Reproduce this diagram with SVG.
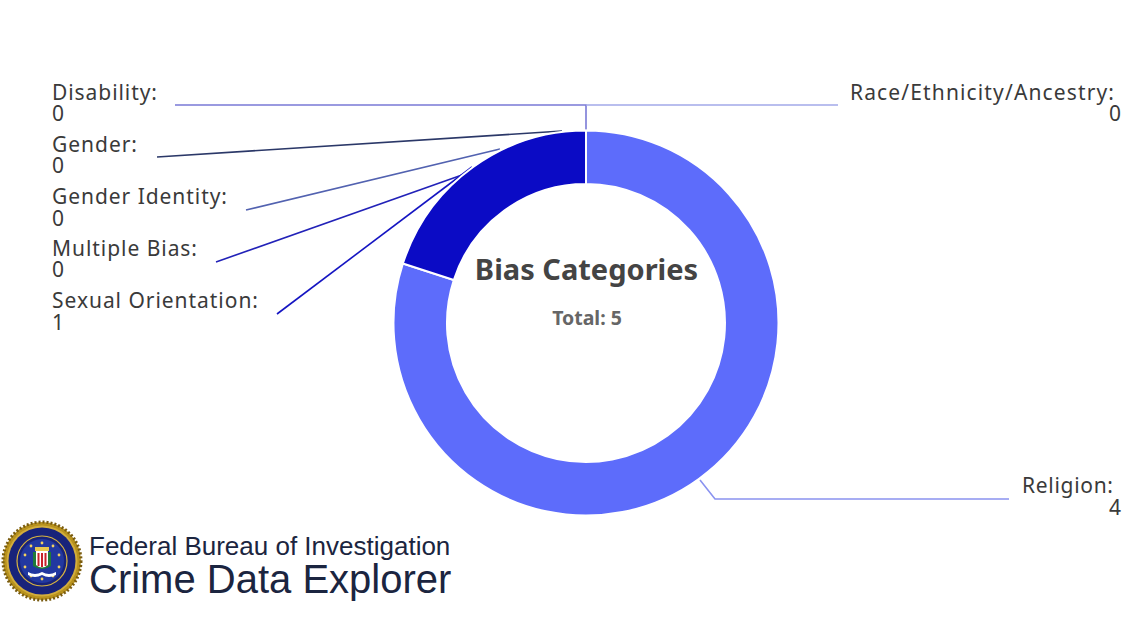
<svg xmlns="http://www.w3.org/2000/svg" width="1148" height="620" viewBox="0 0 1148 620">
<style>
.lbl{font-family:"Noto Sans","Open Sans",sans-serif;font-size:21px;fill:#3a3a3a}
.ttl{font-family:"Noto Sans","Open Sans",sans-serif;font-weight:bold}
.ld{fill:none;stroke-width:1.6}
.fbi{font-family:"Liberation Sans",Arial,sans-serif;fill:#1b2540}
</style>
<rect width="1148" height="620" fill="#ffffff"/>
<g id="connectors">
<polyline class="ld" stroke="#7a7ad6" points="175,105 586,105 586,130"/>
<polyline class="ld" stroke="#a2a9e8" points="586,105 838,105"/>
<polyline class="ld" stroke="#2b3868" points="157,157 562,131"/>
<polyline class="ld" stroke="#5262b0" points="246,210 500,149"/>
<polyline class="ld" stroke="#2222b8" points="216,262 462,175"/>
<polyline class="ld" stroke="#1414c2" points="277,314 472,167"/>
<polyline class="ld" stroke="#8a93f0" points="700,480 715,499 1009,499"/>
</g>
<g id="religion">
<path d="M586,130.5 A192.5,192.5 0 1 1 402.9,263.5 L453.8,280 A139,139 0 1 0 586,184 Z" fill="#5d6cfb" stroke="#ffffff" stroke-width="2" stroke-linejoin="round"/>
</g>
<g id="sexual-orientation">
<path d="M402.9,263.5 A192.5,192.5 0 0 1 586,130.5 L586,184 A139,139 0 0 0 453.8,280 Z" fill="#0b0bc5" stroke="#ffffff" stroke-width="2" stroke-linejoin="round"/>
</g>
<g id="center-title">
<text class="ttl" x="586.5" y="280" text-anchor="middle" font-size="29" fill="#444444">Bias Categories</text>
<text class="ttl" x="587" y="325" text-anchor="middle" font-size="19.5" fill="#666666">Total: 5</text>
</g>
<g id="label-disability"><text class="lbl" x="52" y="100" textLength="105">Disability:</text><text class="lbl" x="52" y="121">0</text></g>
<g id="label-gender"><text class="lbl" x="52" y="152" textLength="85">Gender:</text><text class="lbl" x="52" y="173">0</text></g>
<g id="label-gender-identity"><text class="lbl" x="52" y="204" textLength="175">Gender Identity:</text><text class="lbl" x="52" y="226">0</text></g>
<g id="label-multiple-bias"><text class="lbl" x="52" y="256" textLength="145">Multiple Bias:</text><text class="lbl" x="52" y="277">0</text></g>
<g id="label-sexual-orientation"><text class="lbl" x="52" y="308" textLength="206">Sexual Orientation:</text><text class="lbl" x="52" y="330">1</text></g>
<g id="label-race"><text class="lbl" x="850" y="100" textLength="264">Race/Ethnicity/Ancestry:</text><text class="lbl" x="1121" y="121" text-anchor="end">0</text></g>
<g id="label-religion"><text class="lbl" x="1022" y="493" textLength="91">Religion:</text><text class="lbl" x="1121" y="515" text-anchor="end">4</text></g>
<g id="fbi-logo">
<circle cx="42" cy="561" r="39" fill="#b8921e" stroke="#7a5c10" stroke-width="3" stroke-dasharray="2 2"/>
<circle cx="42" cy="561" r="35.5" fill="#d2ad3c"/>
<circle cx="42" cy="561" r="33.5" fill="#18237a"/>
<circle cx="42" cy="561" r="25" fill="none" stroke="#d8b440" stroke-width="1.2"/>
<circle cx="42" cy="561" r="22" fill="#2238a0"/>
<g fill="#f2d060">
<circle cx="42" cy="543" r="1.4"/><circle cx="53" cy="546" r="1.4"/><circle cx="59" cy="555" r="1.4"/><circle cx="59" cy="567" r="1.4"/><circle cx="53" cy="576" r="1.4"/><circle cx="42" cy="579" r="1.4"/><circle cx="31" cy="576" r="1.4"/><circle cx="25" cy="567" r="1.4"/><circle cx="25" cy="555" r="1.4"/><circle cx="31" cy="546" r="1.4"/>
</g>
<path d="M33,552 L51,552 L51,566 Q42,572 33,566 Z" fill="#1f7a3a"/>
<path d="M36,550 L48,550 L48,565 Q42,570 36,565 Z" fill="#ffffff"/>
<rect x="37.5" y="553" width="2" height="13" fill="#c8202a"/><rect x="41" y="553" width="2" height="14" fill="#c8202a"/><rect x="44.5" y="553" width="2" height="13" fill="#c8202a"/>
<rect x="35" y="547" width="14" height="4" fill="#e8c850"/>
<path d="M28,572 Q35,576 42,572 Q49,576 56,572 L56,575 Q49,579 42,575 Q35,579 28,575 Z" fill="#ffffff"/>
</g>
<g id="fbi-text">
<text class="fbi" x="89" y="555" font-size="26">Federal Bureau of Investigation</text>
<text class="fbi" x="89" y="593" font-size="40">Crime Data Explorer</text>
</g>
</svg>
